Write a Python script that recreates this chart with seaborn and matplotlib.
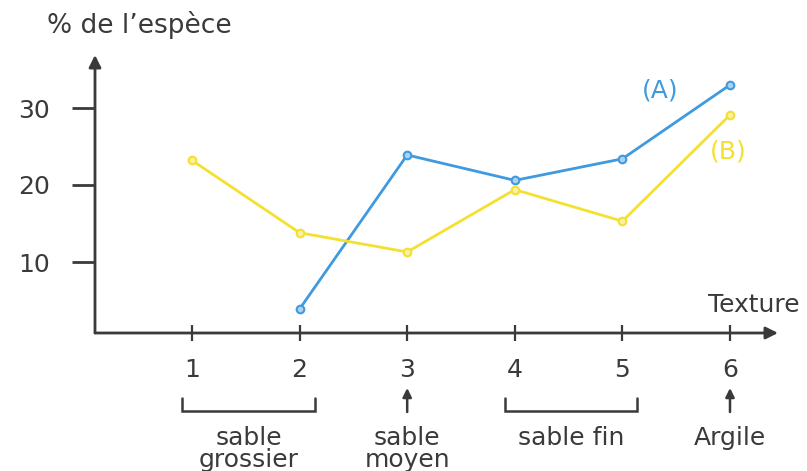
import matplotlib
matplotlib.use("Agg")
import matplotlib.pyplot as plt
import matplotlib.colors as mcolors
import seaborn as sns
import pandas as pd

# ---- data ----
textures = [1, 2, 3, 4, 5, 6]
series_a_x = [2, 3, 4, 5, 6]
series_a = [3.9, 23.9, 20.6, 23.4, 33.0]
series_b_x = [1, 2, 3, 4, 5, 6]
series_b = [23.2, 13.8, 11.3, 19.4, 15.3, 29.1]
y_ticks = [10, 20, 30]
groups = [("sable\ngrossier", [1, 2]), ("sable\nmoyen", [3]), ("sable fin", [4, 5]), ("Argile", [6])]

sns.set_style("white")
plt.rcParams["font.family"] = ["DejaVu Sans"]

blue = "#3f9ae0"
yellow = "#f4e030"
dark = "#3a3a3a"
FS = 18

df = pd.concat([
    pd.DataFrame({"Texture": series_a_x, "pct": series_a, "série": "(A)"}),
    pd.DataFrame({"Texture": series_b_x, "pct": series_b, "série": "(B)"}),
])

fig = plt.figure(figsize=(8.07, 4.71), dpi=100)
ax = fig.add_axes([95 / 807, 1 - 333 / 471, (778 - 95) / 807, (333 - 55) / 471])

sns.lineplot(data=df, x="Texture", y="pct", hue="série", palette={"(A)": blue, "(B)": yellow},
             marker="o", markersize=5.5, linewidth=2, legend=False, ax=ax)
for ln in ax.lines:
    c = ln.get_color()
    r, g, b = mcolors.to_rgb(c)
    ln.set_markeredgecolor(c)
    ln.set_markeredgewidth(1.5)
    ln.set_markerfacecolor((0.55 + 0.45 * r, 0.55 + 0.45 * g, 0.55 + 0.45 * b))

ax.set_xlim(1 - 97 / 107.6, 6 + 48 / 107.6)
ax.set_ylim(10 - 71 / 7.7, 30 + 53 / 7.7)
for s in ax.spines.values():
    s.set_visible(False)

# axes with arrows
ax.annotate("", xy=(0, 1.0), xytext=(0, 0), xycoords="axes fraction",
            arrowprops=dict(arrowstyle="-|>", color=dark, lw=2, mutation_scale=18, shrinkA=0, shrinkB=0))
ax.annotate("", xy=(1.0, 0), xytext=(0, 0), xycoords="axes fraction",
            arrowprops=dict(arrowstyle="-|>", color=dark, lw=2, mutation_scale=18, shrinkA=0, shrinkB=0))

ax.set_xticks(textures)
ax.set_xticklabels([str(t) for t in textures])
ax.set_yticks(y_ticks)
ax.set_yticklabels([str(v) for v in y_ticks])
ax.tick_params(axis="y", direction="out", length=16.5, width=2, color=dark, labelsize=FS,
               labelcolor=dark, pad=16, left=True)
ax.tick_params(axis="x", direction="inout", length=11.5, width=1.6, color=dark, labelsize=FS,
               labelcolor=dark, pad=12, bottom=True)
ax.set_xlabel("")
ax.set_ylabel("")

# axis titles
fig.text(47 / 807, 1 - 25 / 471, "% de l\u2019espèce", fontsize=FS + 1, color=dark, ha="left", va="center")
fig.text(800 / 807, 1 - 305 / 471, "Texture", fontsize=FS, color=dark, ha="right", va="center")

# series labels
ax.text(5.35, 32.3, "(A)", color=blue, fontsize=FS, ha="center", va="center")
ax.text(5.98, 24.3, "(B)", color=yellow, fontsize=FS, ha="center", va="center")

# texture groups below the axis
H = 333 - 55
def fy(py):
    return -(py - 333) / H

trans = ax.get_xaxis_transform()
for label, members in groups:
    if len(members) > 1:
        x0, x1 = members[0] - 0.09, members[-1] + 0.14
        cx = (x0 + x1) / 2
        ax.plot([x0, x0, x1, x1], [fy(398), fy(411), fy(411), fy(398)], color=dark, lw=1.8,
                transform=trans, clip_on=False, solid_joinstyle="miter")
    else:
        cx = members[0]
        ax.annotate("", xy=(members[0], fy(388)), xytext=(members[0], fy(412)), xycoords=trans,
                    arrowprops=dict(arrowstyle="-|>", color=dark, lw=1.8, mutation_scale=13,
                                    shrinkA=0, shrinkB=0))
    for i, line in enumerate(label.split("\n")):
        ax.text(cx, fy(445 + 22 * i), line, transform=trans, ha="center", va="baseline",
                fontsize=FS, color=dark)

fig.savefig("out.png", dpi=100)
